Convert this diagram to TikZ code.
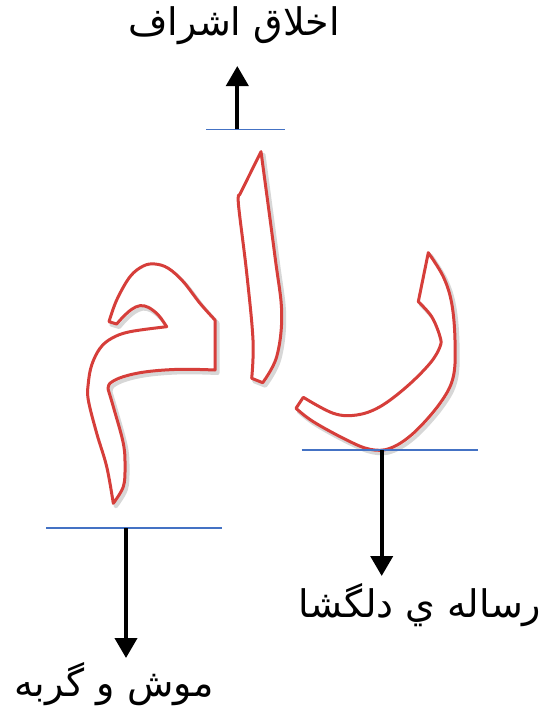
\documentclass[tikz,border=0pt]{standalone}
\usepackage{fontspec}
\usetikzlibrary{arrows.meta}
\TeXXeTstate=1
\newfontfamily\arabicfont[Script=Arabic]{DejaVu Sans}
\definecolor{lredline}{RGB}{214,62,58}
\definecolor{lblueline}{RGB}{68,114,196}
\tikzset{
  letter/.style={draw=lredline, line width=3pt, fill=white, line join=round},
  lettershadow/.style={draw=black!35, line width=4pt, opacity=0.45, line join=round},
  baseline/.style={draw=lblueline, line width=1.3pt},
  bigarrow/.style={draw=black, line width=4pt, -{Triangle[width=22pt,length=20pt]}},
  label/.style={font=\arabicfont\fontsize{38}{44}\selectfont, inner sep=0pt}
}
\def\rmAlef{(261,151.7) -- (239.5,195) -- plot[smooth,tension=0.6] coordinates {(239.5,195) (238.5,205) (246.7,273) (253,340) (251.7,378.3)} -- (262.7,382.7) -- plot[smooth,tension=0.6] coordinates {(262.7,382.7) (276.7,356.7) (281.7,313.3) (275,256.7) (261,151.7)} -- cycle}
\def\rmMeem{(113.3,503.3) -- plot[smooth,tension=0.6] coordinates {(113.3,503.3) (106.7,466.7) (96.7,433.3) (88.3,400) (88.3,383.3) (91.7,365) (100,348.3) (111.7,338.3) (130,331.7) (166.7,326.7)} -- plot[smooth,tension=0.6] coordinates {(166.7,326.7) (158.3,315) (148.3,307.3) (140,305.7) (131.7,309.3) (123.3,316.7) (116.7,324)} -- (109,321.7) -- plot[smooth,tension=0.6] coordinates {(109,321.7) (116.7,300) (130,276.7) (143.3,266) (155,264) (168.3,268.3) (183.3,281.7) (200,303.3) (215,320)} -- (215,370) -- plot[smooth,tension=0.6] coordinates {(215,370) (180,369.3) (146.7,371.7) (123.3,376.7) (110,383.3) (108.3,390)} -- plot[smooth,tension=0.6] coordinates {(108.3,390) (113.3,406.7) (123.3,443.3) (125,466.7) (123.3,486.7) (113.3,503.3)} -- cycle}
\def\rmReh{(428.3,252.7) -- (418.3,301.7) -- plot[smooth,tension=0.6] coordinates {(418.3,301.7) (431.7,316.7) (440,336.7) (440,346.7) (430,363.3) (406.7,386.7) (380,406.7) (356.7,415) (333.3,413.3) (303.3,397.3)} -- (296,408.3) -- plot[smooth,tension=0.6] coordinates {(296,408.3) (313.3,421.7) (346.7,440) (370,449.3) (390,448.3) (413.3,433.3) (440,403.3) (453.3,376.7) (455,340) (451.7,303.3) (443.3,276.7) (428.3,252.7)} -- cycle}
\begin{document}
\begin{tikzpicture}[x=1pt,y=-1pt]
\useasboundingbox (0,0) rectangle (543,710);
% shadows of the letters
\begin{scope}[shift={(2.5,3)}]
  \path[lettershadow] \rmAlef;
  \path[lettershadow] \rmMeem;
  \path[lettershadow] \rmReh;
\end{scope}
% letters
\path[letter] \rmAlef;
\path[letter] \rmMeem;
\path[letter] \rmReh;
% base lines
\coordinate (tl) at (206,129.3);
\coordinate (tr) at (285.3,129.3);
\coordinate (ta) at (237.3,129.3);
\coordinate (rl) at (301.7,450);
\coordinate (rr) at (478.3,450);
\coordinate (ra) at (381.7,450);
\coordinate (ll) at (46,528);
\coordinate (lr) at (222,528);
\coordinate (la) at (126,528);
\draw[baseline] (tl) -- (tr);
\draw[baseline] (rl) -- (rr);
\draw[baseline] (ll) -- (lr);
% labels
\node[label] (ishraq) at (234,26) {\beginR اخلاق اشراف\endR};
\node[label] (risala) at (420,605) {\beginR رساله ي دلگشا\endR};
\node[label] (mush) at (114,684) {\beginR موش و گربه\endR};
\coordinate (tend) at (237.3,66);
\coordinate (rend) at (381.7,576);
\coordinate (lend) at (126,658);
\draw[bigarrow] (ta) -- (tend);
\draw[bigarrow] (ra) -- (rend);
\draw[bigarrow] (la) -- (lend);
\end{tikzpicture}
\end{document}
